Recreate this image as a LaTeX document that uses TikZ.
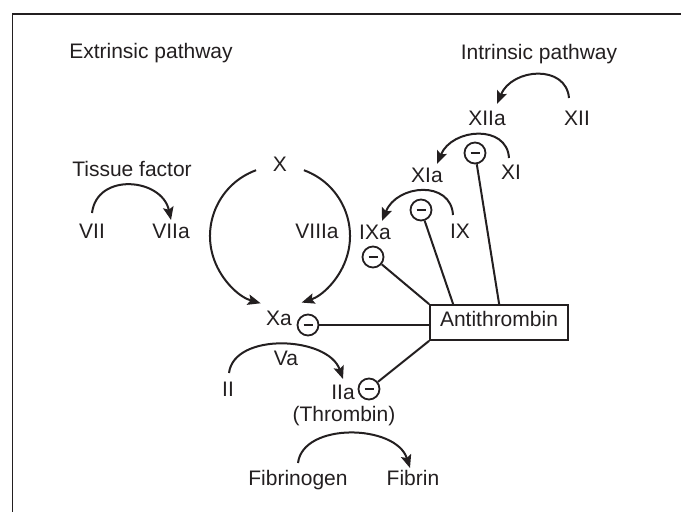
\documentclass[tikz,border=0pt]{standalone}
\usepackage{fontspec}
\setmainfont{Liberation Sans}
\usetikzlibrary{arrows.meta}
\definecolor{ink}{HTML}{231F20}

\tikzset{
  lbl/.style={inner sep=0pt, text height=0.716em, text depth=0pt, text=ink,
              font=\fontsize{21}{24}\selectfont},
  conv/.style={draw=ink, line width=2pt, -{Stealth[length=13pt,width=10.5pt,inset=2.5pt]}},
  inhib/.style={circle, draw=ink, line width=1.8pt, minimum size=21pt, inner sep=0pt,
                path picture={\draw[ink, line width=2pt]
                  ([xshift=-4.5pt]path picture bounding box.center) --
                  ([xshift=4.5pt]path picture bounding box.center);}},
  link/.style={draw=ink, line width=2pt},
  atbox/.style={draw=ink, line width=1.7pt, minimum width=138pt, minimum height=35pt,
                inner sep=0pt, text=ink, font=\fontsize{21}{24}\selectfont}
}

\begin{document}
\begin{tikzpicture}[x=1pt, y=-1pt]
  \useasboundingbox (0,0) rectangle (681,512);
  % open frame: only the top and left edges fall inside the page
  \draw[ink, line width=1.3pt] (12.5,512) -- (12.5,14) -- (681,14);

  % headings
  \node[lbl] (ext) at (151,55) {Extrinsic pathway};
  \node[lbl] (int) at (539,56) {Intrinsic pathway};

  % extrinsic branch
  \node[lbl] (tf)   at (132,173) {Tissue factor};
  \node[lbl] (VII)  at (92,235)  {VII};
  \node[lbl] (VIIa) at (171,235) {VIIa};

  % intrinsic cascade
  \node[lbl] (XII)  at (577,122) {XII};
  \node[lbl] (XIIa) at (487,122) {XIIa};
  \node[lbl] (XI)   at (511,176) {XI};
  \node[lbl] (XIa)  at (427,179) {XIa};
  \node[lbl] (IX)   at (460,235) {IX};
  \node[lbl] (IXa)  at (375,236) {IXa};
  \node[lbl] (VIIIa) at (317,235) {VIIIa};

  % common pathway
  \node[lbl] (X)    at (280,168) {X};
  \node[lbl] (Xa)   at (279,322) {Xa};
  \node[lbl] (II)   at (228,393) {II};
  \node[lbl] (Va)   at (286,362) {Va};
  \node[lbl] (IIa)  at (343,396) {IIa};
  \node[lbl] (thr)  at (344,418) {(Thrombin)};
  \node[lbl] (fbg)  at (298,482) {Fibrinogen};
  \node[lbl] (fb)   at (413,482) {Fibrin};

  % antithrombin and its inhibition sites
  \node[atbox, text height=0.716em, text depth=0pt] (AT) at (499,322.5) {Antithrombin};
  \node[inhib] (iXI)  at (475,153) {};
  \node[inhib] (iIX)  at (421,210) {};
  \node[inhib] (iIXa) at (373,257) {};
  \node[inhib] (iXa)  at (308,325) {};
  \node[inhib] (iIIa) at (369,389) {};

  % conversion arrows
  \coordinate (cXII)  at (569,98);   \coordinate (tXIIa) at (497,104);
  \draw[conv] (cXII) .. controls (566,64) and (512,68) .. (tXIIa);
  \coordinate (cXI)   at (509,158);  \coordinate (tXIa)  at (437,164);
  \draw[conv] (cXI) .. controls (507,124) and (452,128) .. (tXIa);
  \coordinate (cIX)   at (453,215);  \coordinate (tIXa)  at (382,221);
  \draw[conv] (cIX) .. controls (451,180) and (397,184) .. (tIXa);
  \coordinate (cVII)  at (92,213);   \coordinate (tVIIa) at (171,220);
  \draw[conv] (cVII) .. controls (97,172) and (162,178) .. (tVIIa);
  \coordinate (cII)   at (229,373);  \coordinate (tIIa)  at (343,379);
  \draw[conv] (cII) .. controls (234,332) and (328,336) .. (tIIa);
  \coordinate (cfbg)  at (298,463);  \coordinate (tfb)   at (410,468);
  \draw[conv] (cfbg) .. controls (303,422) and (396,424) .. (tfb);

  % the two routes from X to Xa
  \coordinate (loop) at (280,236);
  \draw[conv] ([shift={(250:70)}]loop) arc[start angle=250, end angle=106, radius=70];
  \draw[conv] ([shift={(-70:70)}]loop) arc[start angle=-70, end angle=72, radius=70];

  % inhibition links to antithrombin
  \draw[link] (iXa) -- (AT.west |- iXa);
  \draw[link] (iIXa) -- (AT.north west);
  \draw[link] (iIX) -- ([xshift=24pt]AT.north west);
  \draw[link] (iXI) -- ([xshift=70pt]AT.north west);
  \draw[link] (AT.south west) -- (iIIa);
\end{tikzpicture}
\end{document}
